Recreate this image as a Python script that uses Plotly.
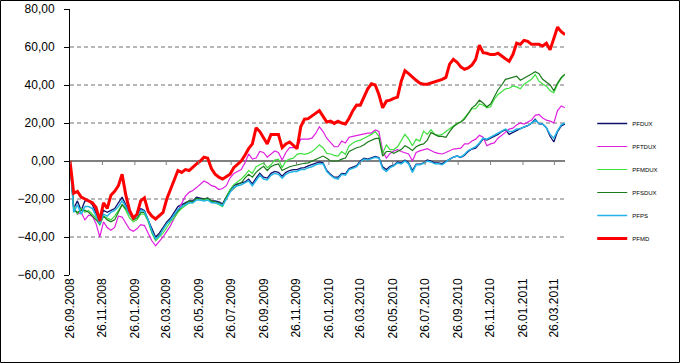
import pandas as pd
import plotly.graph_objects as go

# ---------------- data (weekly) ----------------
dates = pd.date_range("2008-09-26", periods=134, freq="7D")

pfdux = [0, -25, -21, -26, -21, -21, -23, -28, -32, -26, -27, -26, -25, -22, -19, -23, -27, -30, -28, -25,
         -26, -31, -36, -40, -38, -35, -32, -30, -27, -24, -23, -22, -21, -21, -19, -19.5, -20, -19.4, -21, -21,
         -21.5, -22.5, -19, -15.5, -13, -12, -11.5, -11, -9.5, -12, -9, -6.5, -8.5, -9, -6.5, -5.5, -6, -8, -6, -5,
         -4.5, -4.5, -3.7, -3.5, -2.6, -2, -1.2, -0.5, -1, -5, -7, -8.5, -8.5, -6.5, -6.8, -4, -3.2, -2.4, 0, 1.5,
         1, 1.8, 2.4, 1.8, -3, -4.5, -2.8, -2.2, -0.5, -1, 0.5, -1, -5, -1.6, -1.6, -1, 0.5, 0, -1, -1,
         -1.4, -0.2, 1, 2, 2.6, 1.8, 3, 5, 6.3, 6.8, 9, 11.5, 11, 12, 13, 14, 15.5, 16.5, 14, 15,
         16.3, 17, 17.8, 18.6, 20, 22, 19.5, 19.4, 17.5, 13, 10, 15.5, 18.5, 19.5]

pftdux = [0, -24, -28, -27, -31, -28.5, -29, -33, -40, -32, -35, -36.5, -35, -29, -29.5, -33, -36, -37, -35.7, -33.5,
          -34, -38, -42, -44.6, -42.5, -40, -37, -34, -30, -26, -22, -18.5, -16.5, -15.5, -14, -12, -10.5, -11.5, -13, -13.5,
          -15, -14.5, -13, -9, -6.5, -5.5, -4.5, -1, 3.7, 1, 1.6, 5, 4.5, 2, 3.5, 5.3, 4.5, 0.5, 4.5, 7,
          7, 7, 11.5, 11.5, 11.5, 12, 14.5, 18, 15.5, 12, 9.5, 7.5, 7.5, 10.5, 9.5, 12.5, 13, 13.5, 14, 14.3,
          14.7, 14.7, 16.3, 15.5, 5.5, 1.5, 4, 5.3, 6, 5, 4.5, 3.7, 0, 4.5, 5.3, 6, 6.5, 5.5, 4.5, 4,
          3.7, 4.5, 5.5, 6.3, 6.5, 6.8, 9, 9, 10.5, 11.5, 13.5, 12.5, 8, 9, 9.5, 12, 13.5, 15, 16.8, 17.3,
          19, 20, 19.4, 20.5, 21.5, 24, 24.5, 22.6, 21.5, 21, 20, 26.5, 29, 28]

pfmdux = [0, -24, -28, -25, -27, -26, -28, -30, -34, -29, -30, -31, -29, -26, -23, -26, -30, -32, -31, -28,
          -28, -32, -38, -42, -40, -38, -35, -32, -30, -27, -25, -23.5, -22, -22, -20, -20.5, -20.5, -20, -21.5, -22,
          -23, -24, -19, -15, -12.5, -11, -9.5, -7.5, -5, -6.5, -3, -2, -1, -3.5, -2, 0.5, 1, -3.5, 0, 1,
          1.5, 3.5, 4, 3.5, 4, 5, 6.5, 8.5, 7, 4, 3.7, 3, 2.6, 5, 3.5, 8, 9.5, 10.5, 11, 12,
          13, 14, 15.5, 13, 4, 8.5, 6, 6, 7.5, 10.5, 14, 11.5, 8, 11.5, 10.5, 15.7, 14, 16.5, 14, 13.5,
          14, 15.5, 17, 18.5, 19.8, 20.5, 22.6, 25, 27.5, 27.5, 30, 29.5, 28, 28.5, 32.5, 35, 36.5, 38, 38.3, 39.5,
          39, 38, 40.4, 41.5, 43, 45.5, 42, 40.5, 39.4, 37, 36, 40.4, 43.5, 45.7]

pfsdux = [0, -26, -27, -26, -26, -27, -29, -31, -33, -29, -31, -32, -31, -27, -23, -25, -28, -31, -30, -27,
          -27, -31, -37, -41, -39, -36, -33, -31, -28.5, -26, -24, -22.5, -21, -21.5, -19.5, -20, -20, -19.5, -21, -21.5,
          -22, -23, -19, -16, -14.5, -12.5, -11.5, -9, -7, -8.5, -6, -4.2, -2.8, -5, -3, -2, -1.5, -5, -4, -3,
          -2.5, -2, -1.5, -1.2, -1, 0, 1, 2, 2.6, 1.5, 0, 0, 0, 1, 1.6, 5, 6, 7, 7.5, 8.5,
          10, 11, 11.8, 12, 2.6, 5, 5, 4, 5, 6, 8, 7, 5.5, 7.5, 8.5, 9, 11, 15, 14, 13,
          13, 12.5, 15.5, 18, 19.5, 20.5, 22, 25, 28, 29.5, 32, 30.5, 28.5, 30, 34, 37.5, 40, 43, 43.5, 44,
          44.6, 42.5, 43.5, 44.6, 45.8, 47, 46, 43, 41.5, 40, 37, 41, 44, 45.7]

pfps = [0, -27, -23, -28, -24, -24, -25, -29, -33, -28, -29, -27, -26, -24, -21, -24, -28, -30, -29, -26,
        -26.5, -31, -37, -41, -39.5, -36, -33, -31, -28.5, -25.5, -24, -23, -22, -22, -20.5, -20.5, -21, -20.5, -22, -22,
        -22.5, -23.5, -20, -16.5, -14, -13, -12.5, -11.5, -10.5, -13, -10, -7.5, -9.5, -10, -7.5, -6.5, -7, -9, -7, -6,
        -5.5, -5.5, -4.5, -4.5, -3.5, -3, -2, -1.5, -1.5, -5.5, -7.5, -9, -9.5, -7, -7.5, -4.5, -3.8, -3, -0.5, 1,
        0.5, 1.2, 2, 1.5, -4, -5.5, -3.5, -2.5, -1, -1.5, 0, -1.5, -6, -2, -2, -1.2, 0, -0.5, -1.5, -1.5,
        -2, -0.5, 1, 2, 2.6, 2, 3.5, 5.5, 6.5, 7.5, 9.5, 12, 11.5, 12.5, 13.5, 14.7, 15.7, 16.8, 15.5, 15.7,
        16.8, 17, 18, 18.6, 19.8, 21.5, 19.8, 19.4, 17.5, 14, 12, 16, 19, 20]

pfmd = [0, -17, -16, -19, -20, -21, -22, -24.5, -31.5, -22, -25, -18, -16, -13, -7, -18, -26, -30, -28, -21,
        -19.4, -26.5, -29, -30.5, -28.5, -27, -20, -15, -10, -5, -6, -4.5, -5, -3, -1.5, 0, 2, 1.5, -4, -7,
        -8.5, -9.5, -8, -7, -3.5, -1.5, 0, 3, 6.5, 9, 17.5, 15.5, 12, 9, 14, 14, 14, 7, 9, 10,
        8, 6.5, 18, 22, 22.3, 23.6, 25, 26.5, 23.5, 20.5, 21, 19.8, 21, 20, 19.5, 22.5, 26.5, 29.5, 29.4, 34,
        38, 40.6, 40, 35, 28, 31.5, 32, 33, 33.6, 42, 47.5, 46, 44, 42.5, 41, 40.4, 40.4, 41, 42, 42.5,
        43, 44, 51, 53.5, 52, 49.5, 48.3, 49, 50.5, 53.5, 61, 57, 56.7, 56, 56, 56.7, 55, 53.8, 52.5, 56,
        62, 61.4, 63.5, 63, 61.4, 61.4, 61.4, 60.5, 62, 58.5, 64, 70.5, 68, 66.5]

series_names = ["PFDUX", "PFTDUX", "PFMDUX", "PFSDUX", "PFPS", "PFMD"]
series_values = [pfdux, pftdux, pfmdux, pfsdux, pfps, pfmd]
series_colors = ["#10106e", "#e020e0", "#3ee03e", "#1c7a1c", "#22b4e6", "#ff0000"]
series_widths = [1.3, 1.2, 1.2, 1.2, 1.5, 3]

y_ticks = [-60, -40, -20, 0, 20, 40, 60, 80]
x_ticks = pd.to_datetime(["2008-09-26", "2008-11-26", "2009-01-26", "2009-03-26", "2009-05-26", "2009-07-26",
                          "2009-09-26", "2009-11-26", "2010-01-26", "2010-03-26", "2010-05-26", "2010-07-26",
                          "2010-09-26", "2010-11-26", "2011-01-26", "2011-03-26"])

# ---------------- figure ----------------
FONT = "Liberation Sans, Arial, sans-serif"
ML, MR, MT, MB = 70, 115, 9, 89
W, H = 680, 364
PW, PH = W - ML - MR, H - MT - MB

fig = go.Figure()
for name, vals, col, w in zip(series_names, series_values, series_colors, series_widths):
    fig.add_trace(go.Scatter(x=dates, y=vals, mode="lines", name=name, legendgroup=name,
                             line=dict(color=col, width=w)))

shapes = []
# dashed horizontal gridlines (not at edges or zero)
for v in y_ticks:
    if v in (min(y_ticks), max(y_ticks), 0):
        continue
    shapes.append(dict(type="line", xref="paper", yref="y", x0=0, x1=1, y0=v, y1=v,
                       line=dict(color="#707070", width=1, dash="4px,3px"), layer="below"))
# small tick marks on the zero line at each date tick
for d in x_ticks:
    shapes.append(dict(type="line", xref="x", yref="y", ysizemode="pixel", yanchor=0,
                       x0=d, x1=d, y0=0, y1=-4, line=dict(color="#808080", width=1)))
# outer chart border
shapes.append(dict(type="rect", xref="paper", yref="paper",
                   x0=-(ML - 0.5) / PW, x1=1 + (MR - 0.5) / PW,
                   y0=-(MB - 1.5) / PH, y1=1 + (MT - 0.5) / PH,
                   line=dict(color="#000000", width=1), fillcolor="rgba(0,0,0,0)"))

fig.update_layout(
    width=W, height=H,
    margin=dict(l=ML, r=MR, t=MT, b=MB, pad=0),
    paper_bgcolor="white", plot_bgcolor="white",
    separators=",.",
    font=dict(family=FONT, size=12, color="black"),
    showlegend=True,
    legend=dict(x=1.055, y=0.624, xanchor="left", yanchor="top",
                font=dict(family=FONT, size=6, color="black"),
                tracegroupgap=4, bgcolor="rgba(0,0,0,0)", itemwidth=30),
    shapes=shapes,
    xaxis=dict(type="date", range=[dates[0], dates[-1]], tickmode="array", tickvals=x_ticks,
               ticktext=[d.strftime("%d.%m.%Y") for d in x_ticks], tickangle=-90,
               showgrid=False, showline=False, zeroline=False, ticks="", automargin=False,
               tickfont=dict(family=FONT, size=12, color="black")),
    yaxis=dict(range=[min(y_ticks), max(y_ticks)], tickmode="array", tickvals=y_ticks,
               tickformat=".2f", showgrid=False, showline=True, linecolor="black", linewidth=1,
               ticks="outside", ticklen=5, tickcolor="black", ticklabelstandoff=7, automargin=False,
               zeroline=True, zerolinecolor="#808080", zerolinewidth=1.5,
               tickfont=dict(family=FONT, size=12, color="black")),
)

# the page's default 8px body margin is removed so the chart fills the window exactly
fig.write_html("out.html", config={"displayModeBar": False},
               post_script="document.body.style.margin='0px';")
